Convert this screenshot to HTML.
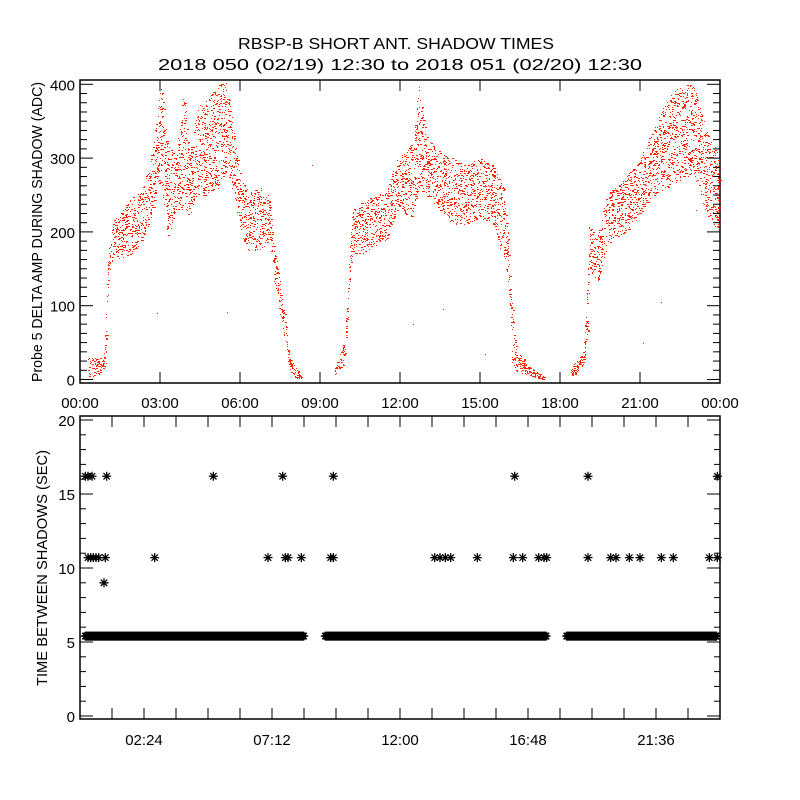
<!DOCTYPE html>
<html><head><meta charset="utf-8"><style>
html,body{margin:0;padding:0;background:#fff}
svg{display:block}
text{font-family:"Liberation Sans",sans-serif;fill:#000}
</style></head><body>
<svg id="chart" width="800" height="800" viewBox="0 0 800 800" xmlns="http://www.w3.org/2000/svg">
<rect width="800" height="800" fill="#fff"/>
<text x="396" y="49" font-size="16" text-anchor="middle" textLength="316" lengthAdjust="spacingAndGlyphs">RBSP-B SHORT ANT. SHADOW TIMES</text>
<text x="400" y="70" font-size="16" text-anchor="middle" textLength="484" lengthAdjust="spacingAndGlyphs">2018 050 (02/19) 12:30 to 2018 051 (02/20) 12:30</text>
<g id="topPanel"></g>
<g id="botPanel"></g>
<text transform="translate(42,232) rotate(-90)" font-size="15" text-anchor="middle" textLength="300" lengthAdjust="spacingAndGlyphs">Probe 5 DELTA AMP DURING SHADOW (ADC)</text>
<text transform="translate(47,568) rotate(-90)" font-size="15" text-anchor="middle" textLength="236" lengthAdjust="spacingAndGlyphs">TIME BETWEEN SHADOWS (SEC)</text>
</svg>
<script>
// ---- top panel data: envelope (hours, low, high) ----
const envHours = [0.3,0.9,1.0,1.05,1.2,1.5,1.9,2.3,2.6,2.9,3.05,3.3,3.6,3.9,4.1,4.4,4.8,5.2,5.5,5.8,6.0,6.3,6.8,7.1,7.3,7.6,7.9,8.3, 9.55,9.9,10.0,10.2,10.6,11.0,11.5,11.9,12.5,12.7,13.0,13.5,14.0,14.5,15.0,15.5,15.9,16.05,16.2,16.4,16.8,17.4, 18.4,18.9,19.05,19.1,19.4,19.7,20.0,20.5,21.0,21.5,22.0,22.5,23.0,23.5,24.0];
const envLow  = [2,10,30,140,160,165,170,185,210,250,270,190,230,230,220,250,250,260,280,250,200,175,175,190,130,70,5,0, 5,20,60,170,170,180,190,230,220,260,250,230,210,210,220,210,160,140,20,10,5,0, 5,15,60,150,130,170,190,200,220,250,260,270,280,220,200];
const envHigh = [30,30,100,170,215,225,245,255,290,360,400,320,300,390,300,370,380,400,405,330,280,255,260,250,180,110,30,5, 15,50,100,230,240,250,255,300,320,400,330,310,300,290,300,290,260,200,100,40,20,5, 15,40,150,210,190,250,260,275,300,340,380,400,400,340,300];
const envBreaks = [8.3,17.4];
const strayHours = [2.9,5.5,8.7,12.5,13.6,15.2,21.8,21.1,23.1];
const strayValues = [90,92,290,75,95,35,105,50,230];
// ---- bottom panel data ----
const bandSegments = [[0.2,8.4],[9.2,17.5],[18.25,24.0]];
const bandValue = 5.4;
const outHours = [0.2,0.3,0.45,1.0,5.0,7.6,9.5,16.3,19.05,23.9,
  0.3,0.4,0.5,0.6,0.7,0.95,2.8,7.05,7.7,7.8,8.3,9.4,9.5,13.3,13.5,13.7,13.9,14.9,16.25,16.6,17.2,17.4,17.5,19.05,19.9,20.1,20.6,21.0,21.8,22.25,23.6,23.9,
  0.9];
const outValues = [16.2,16.2,16.2,16.2,16.2,16.2,16.2,16.2,16.2,16.2,
  10.7,10.7,10.7,10.7,10.7,10.7,10.7,10.7,10.7,10.7,10.7,10.7,10.7,10.7,10.7,10.7,10.7,10.7,10.7,10.7,10.7,10.7,10.7,10.7,10.7,10.7,10.7,10.7,10.7,10.7,10.7,10.7,
  9.0];
const topTickLabels = ["00:00","03:00","06:00","09:00","12:00","15:00","18:00","21:00","00:00"];
const topYTicks = [0,100,200,300,400];
const botTickLabels = ["02:24","07:12","12:00","16:48","21:36"];
const botYTicks = [0,5,10,15,20];

const NS="http://www.w3.org/2000/svg";
const L=80,R=720;
const xs = h => L + h/24*(R-L);
const T1=80,B1=383, yTop = v => 379.5 - v*0.738;
const T2=416,B2=719, yBot = v => 716 - v*14.8;
function mk(tag,parent,attrs){const e=document.createElementNS(NS,tag);for(const k in attrs)e.setAttribute(k,attrs[k]);parent.appendChild(e);return e;}
const topG=document.getElementById('topPanel'), botG=document.getElementById('botPanel');

let f=mk('rect',topG,{x:L,y:T1,width:R-L,height:B1-T1,fill:'none',stroke:'#000','stroke-width':1.5});


let dots=mk('g',topG,{fill:'#ff2200','shape-rendering':'crispEdges'});


function hash(i,s){const x=Math.sin(i*12.9898+s*78.233)*43758.5453;return x-Math.floor(x);}
let idx=1;
for(let i=0;i<envHours.length-1;i++){
  const h0=envHours[i],h1=envHours[i+1];
  if(envBreaks.includes(h0))continue;
  const span=h1-h0;
  const avgW=((envHigh[i]-envLow[i])+(envHigh[i+1]-envLow[i+1]))/2;
  const n=Math.round(span*(90+avgW*2.2));
  for(let k=0;k<n;k++){
    const u=hash(idx,1),w=hash(idx,2);idx++;
    const h=h0+u*span;
    const lo=envLow[i]+(envLow[i+1]-envLow[i])*u, hi=envHigh[i]+(envHigh[i+1]-envHigh[i])*u;
    const v=lo+w*(hi-lo);
    const d=mk('rect',dots,{x:Math.round(xs(h)),y:Math.round(yTop(v)),width:(hash(idx,3)<0.3?2:1),height:1});
    
    
  }
}
for(let i=0;i<strayHours.length;i++){
  const d=mk('rect',dots,{x:Math.round(xs(strayHours[i])),y:Math.round(yTop(strayValues[i])),width:1,height:1});
  
  
}
topTickLabels.forEach((lab,i)=>{
  const x=xs(i*3);
  mk('line',topG,{x1:x,x2:x,y1:B1,y2:B1-11,stroke:'#000'});
  mk('line',topG,{x1:x,x2:x,y1:T1,y2:T1+11,stroke:'#000'});
  const t=mk('text',topG,{x:x,y:408,'font-size':15,'text-anchor':'middle'});t.textContent=lab;
  
  
});
for(let v=0;v<=406;v+=12.5){
  const y=yTop(v),maj=(v%100===0);
  mk('line',topG,{x1:L,x2:L+(maj?13:7),y1:y,y2:y,stroke:'#000'});
  mk('line',topG,{x1:R,x2:R-(maj?13:7),y1:y,y2:y,stroke:'#000'});
}
topYTicks.forEach(v=>{
  const t=mk('text',topG,{x:75,y:yTop(v)+6,'font-size':15,'text-anchor':'end'});t.textContent=v;
  
  
});

f=mk('rect',botG,{x:L,y:T2,width:R-L,height:B2-T2,fill:'none',stroke:'#000','stroke-width':1.5});


for(let i=1;i<20;i++){
  const x=xs(i*1.2);
  mk('line',botG,{x1:x,x2:x,y1:B2,y2:B2-11,stroke:'#000'});
  mk('line',botG,{x1:x,x2:x,y1:T2,y2:T2+11,stroke:'#000'});
}
botTickLabels.forEach((lab,i)=>{
  const t=mk('text',botG,{x:xs(2.4+i*4.8),y:745,'font-size':15,'text-anchor':'middle'});t.textContent=lab;
  
  
});
for(let v=0;v<=20;v++){
  const y=yBot(v),maj=(v%5===0);
  mk('line',botG,{x1:L,x2:L+(maj?13:6),y1:y,y2:y,stroke:'#000'});
  mk('line',botG,{x1:R,x2:R-(maj?13:6),y1:y,y2:y,stroke:'#000'});
}
botYTicks.forEach(v=>{
  const t=mk('text',botG,{x:75,y:yBot(v)+6,'font-size':15,'text-anchor':'end'});t.textContent=v;
  
  
});
const stars=mk('g',botG,{stroke:'#000','stroke-width':1.3,fill:'none'});


function star(h,v){
  const x=xs(h),y=yBot(v),r=4.5;
  const p=mk('path',stars,{d:`M${x-r} ${y}H${x+r}M${x} ${y-r}V${y+r}M${x-3.2} ${y-3.2}L${x+3.2} ${y+3.2}M${x-3.2} ${y+3.2}L${x+3.2} ${y-3.2}`});
  
  
}
bandSegments.forEach(s=>{for(let h=s[0];h<=s[1]+1e-9;h+=0.03)star(Math.min(h,23.85),bandValue);});
for(let i=0;i<outHours.length;i++)star(outHours[i],outValues[i]);
</script>
</body></html>
